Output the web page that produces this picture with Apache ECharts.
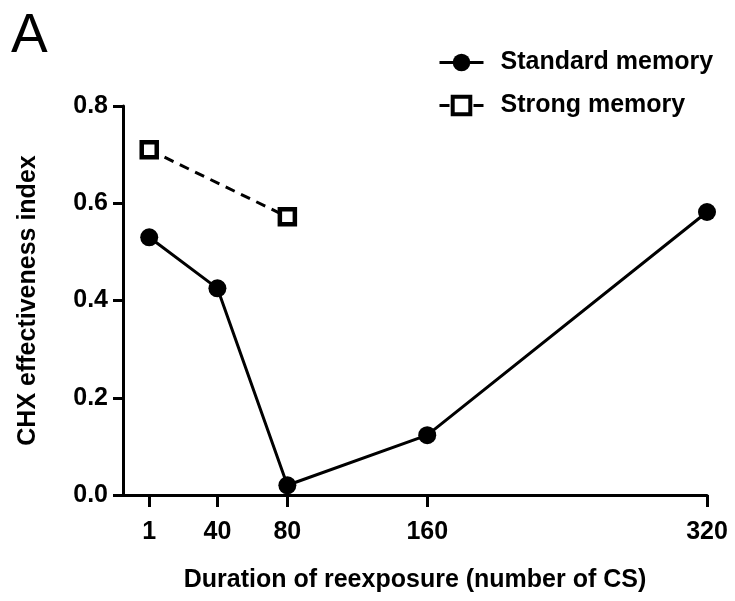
<!DOCTYPE html>
<html>
<head>
<meta charset="utf-8">
<script src="https://cdn.jsdelivr.net/npm/echarts@6/dist/echarts.min.js"></script>
<style>
  html, body { margin: 0; padding: 0; background: #fff; }
  #main { width: 735px; height: 601px; }
</style>
</head>
<body>
<div id="main"></div>
<script>
// duration of reexposure (number of CS)
const xTicks = [1, 40, 80, 160, 320]
const standardX = [1, 40, 80, 160, 320]
const standardY = [0.53, 0.425, 0.02, 0.123, 0.582]
const strongX = [1, 80]
const strongY = [0.71, 0.572]

const font = 'Liberation Sans, Arial, sans-serif'

let chart = echarts.init(document.getElementById('main'))
chart.setOption({
  animation: false,
  backgroundColor: '#fff',
  title: {
    text: 'A',
    left: 6, top: 4,
    textStyle: { fontFamily: font, fontSize: 55, fontWeight: 'normal', color: '#000' }
  },
  legend: {
    orient: 'vertical',
    left: 433, top: 45,
    itemWidth: 44, itemHeight: 22,
    itemGap: 18,
    lineStyle: { width: 3 },
    textStyle: { fontFamily: font, fontSize: 25, fontWeight: 'bold', color: '#000', padding: [0, 0, 0, 12] },
    data: [
      { name: 'Standard memory' },
      { name: 'Strong memory', itemStyle: { borderWidth: 4, borderColor: '#000', color: '#fff' } }
    ]
  },
  grid: { left: 123, right: 28, top: 106, bottom: 106 },
  xAxis: {
    type: 'value',
    min: -14, max: 320,
    name: 'Duration of reexposure (number of CS)',
    nameLocation: 'middle',
    nameGap: 73,
    nameTextStyle: { fontFamily: font, fontSize: 25, fontWeight: 'bold', color: '#000' },
    axisLine: { onZero: false, lineStyle: { color: '#000', width: 3 } },
    splitLine: { show: false },
    axisTick: { customValues: xTicks, length: 12, lineStyle: { color: '#000', width: 3 } },
    axisLabel: {
      customValues: xTicks, margin: 25,
      fontFamily: font, fontSize: 25, fontWeight: 'bold', color: '#000'
    }
  },
  yAxis: {
    type: 'value',
    min: 0, max: 0.8, interval: 0.2,
    name: 'CHX effectiveness index',
    nameLocation: 'middle',
    nameGap: 82,
    nameTextStyle: { fontFamily: font, fontSize: 25, fontWeight: 'bold', color: '#000' },
    axisLine: { show: true, onZero: false, lineStyle: { color: '#000', width: 3 } },
    splitLine: { show: false },
    axisTick: { show: true, length: 10, lineStyle: { color: '#000', width: 3 } },
    axisLabel: {
      margin: 15,
      fontFamily: font, fontSize: 25, fontWeight: 'bold', color: '#000',
      formatter: v => v.toFixed(1)
    }
  },
  series: [
    {
      name: 'Standard memory',
      type: 'line',
      symbol: 'circle',
      symbolSize: 18,
      data: standardX.map((x, i) => [x, standardY[i]]),
      lineStyle: { color: '#000', width: 3 },
      itemStyle: { color: '#000' }
    },
    {
      name: 'Strong memory',
      type: 'line',
      symbol: 'rect',
      symbolSize: 15,
      data: strongX.map((x, i) => [x, strongY[i]]),
      lineStyle: { color: '#000', width: 3, type: [10, 7] },
      itemStyle: { color: '#fff', borderColor: '#000', borderWidth: 4.5 }
    }
  ]
})
</script>
</body>
</html>
